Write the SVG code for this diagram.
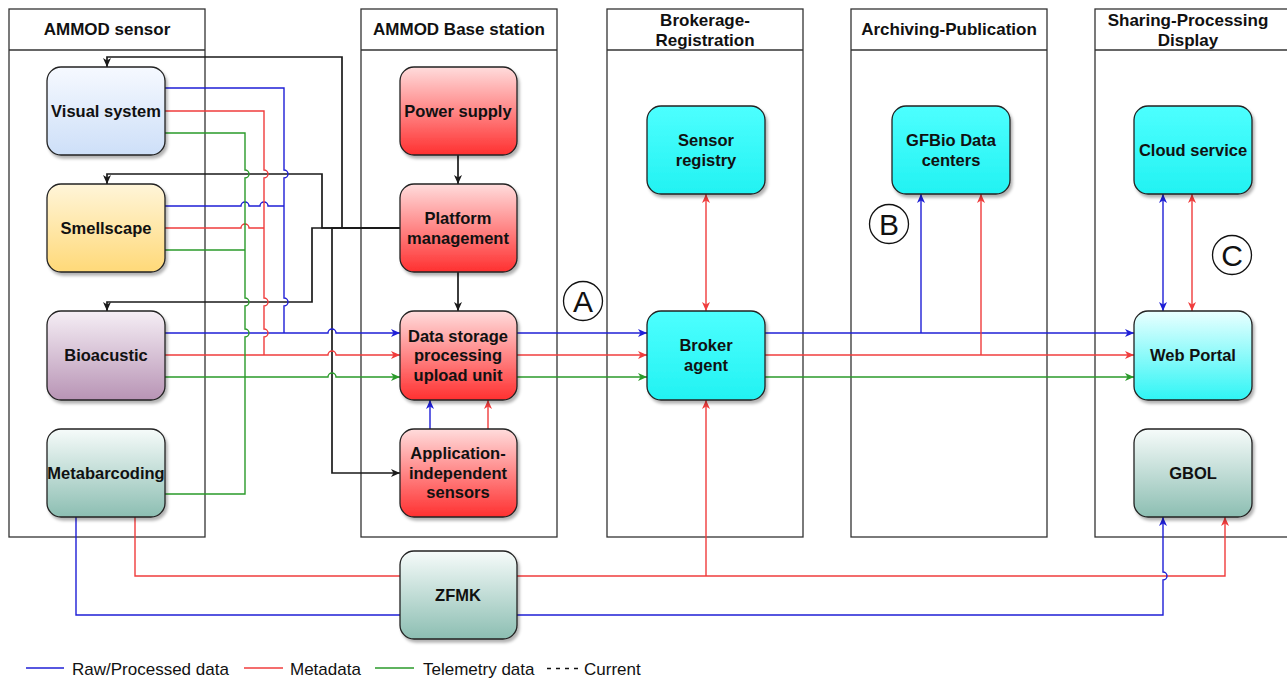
<svg xmlns="http://www.w3.org/2000/svg" width="1287" height="678" viewBox="0 0 1287 678">
<style>
.lane{fill:none;stroke:#333;stroke-width:1.3}
.hdr{font-family:"Liberation Sans",Arial,sans-serif;font-weight:bold;font-size:17px;fill:#111;text-anchor:middle}
.nt{font-family:"Liberation Sans",Arial,sans-serif;font-weight:bold;font-size:16.5px;fill:#111;text-anchor:middle}
.node{stroke:#222;stroke-width:1.3}
.c{fill:none;stroke-width:1.4}
.b{stroke:#1f1fd6}.r{stroke:#f03c3c}.g{stroke:#2a9a2a}.k{stroke:#1a1a1a;stroke-width:1.7}
.leg{font-family:"Liberation Sans",Arial,sans-serif;font-size:17px;fill:#111}
.circ{fill:#fff;stroke:#111;stroke-width:1.3}
.cl{font-family:"Liberation Sans",Arial,sans-serif;font-size:30px;fill:#111;text-anchor:middle}
</style>
<defs>
<filter id="sh" x="-10%" y="-10%" width="130%" height="130%"><feDropShadow dx="2" dy="3" stdDeviation="1.5" flood-color="#000" flood-opacity="0.3"/></filter>
<linearGradient id="gBlue" x1="0" y1="0" x2="0" y2="1"><stop offset="0" stop-color="#f6f9ff"/><stop offset="1" stop-color="#cddff8"/></linearGradient>
<linearGradient id="gYel" x1="0" y1="0" x2="0" y2="1"><stop offset="0" stop-color="#fff5d9"/><stop offset="1" stop-color="#ffd978"/></linearGradient>
<linearGradient id="gPur" x1="0" y1="0" x2="0" y2="1"><stop offset="0" stop-color="#f5eef5"/><stop offset="1" stop-color="#b894b5"/></linearGradient>
<linearGradient id="gTeal" x1="0" y1="0" x2="0" y2="1"><stop offset="0" stop-color="#f6fbfa"/><stop offset="1" stop-color="#8cbeb2"/></linearGradient>
<linearGradient id="gRed" x1="0" y1="0" x2="0" y2="1"><stop offset="0" stop-color="#ffdcdc"/><stop offset="1" stop-color="#ff3030"/></linearGradient>
<linearGradient id="gCyan" x1="0" y1="0" x2="0" y2="1"><stop offset="0" stop-color="#4dffff"/><stop offset="1" stop-color="#22f2f2"/></linearGradient>
<linearGradient id="gCyanL" x1="0" y1="0" x2="0" y2="1"><stop offset="0" stop-color="#eaffff"/><stop offset="1" stop-color="#2ef5f5"/></linearGradient>
<marker id="aB" markerUnits="userSpaceOnUse" markerWidth="10" markerHeight="10" refX="9" refY="4" orient="auto-start-reverse"><path d="M0,0 L9,4 L0,8 L2.5,4 Z" fill="#1f1fd6"/></marker>
<marker id="aR" markerUnits="userSpaceOnUse" markerWidth="10" markerHeight="10" refX="9" refY="4" orient="auto-start-reverse"><path d="M0,0 L9,4 L0,8 L2.5,4 Z" fill="#f03c3c"/></marker>
<marker id="aG" markerUnits="userSpaceOnUse" markerWidth="10" markerHeight="10" refX="9" refY="4" orient="auto-start-reverse"><path d="M0,0 L9,4 L0,8 L2.5,4 Z" fill="#2a9a2a"/></marker>
<marker id="aK" markerUnits="userSpaceOnUse" markerWidth="10" markerHeight="10" refX="9" refY="4" orient="auto-start-reverse"><path d="M0,0 L9,4 L0,8 L2.5,4 Z" fill="#1a1a1a"/></marker>
</defs>
<rect width="1287" height="678" fill="#fff"/>

<g id="lanes">
<g id="lane-sensor"><rect class="lane" x="9" y="9" width="196" height="528"/><line class="lane" x1="9" y1="50" x2="205" y2="50"/><text class="hdr" x="107" y="35">AMMOD sensor</text></g>
<g id="lane-base"><rect class="lane" x="361" y="9" width="196" height="528"/><line class="lane" x1="361" y1="50" x2="557" y2="50"/><text class="hdr" x="459" y="35">AMMOD Base station</text></g>
<g id="lane-broker"><rect class="lane" x="607" y="9" width="196" height="528"/><line class="lane" x1="607" y1="50" x2="803" y2="50"/><text class="hdr" x="705" y="26">Brokerage-</text><text class="hdr" x="705" y="46">Registration</text></g>
<g id="lane-archive"><rect class="lane" x="851" y="9" width="196" height="528"/><line class="lane" x1="851" y1="50" x2="1047" y2="50"/><text class="hdr" x="949" y="35">Archiving-Publication</text></g>
<g id="lane-share"><rect class="lane" x="1095" y="9" width="196" height="528"/><line class="lane" x1="1095" y1="50" x2="1291" y2="50"/><text class="hdr" x="1188" y="26">Sharing-Processing</text><text class="hdr" x="1188" y="46">Display</text></g>
</g>

<g id="connectors">
<path class="c k" d="M400,228 L342,228 L342,57 L107,57 L107,67" marker-end="url(#aK)"/>
<path class="c k" d="M400,228 L322,228 L322,174 L107,174 L107,184" marker-end="url(#aK)"/>
<path class="c k" d="M400,228 L312,228 L312,302 L107,302 L107,311" marker-end="url(#aK)"/>
<path class="c k" d="M400,228 L332,228 L332,473 L400,473" marker-end="url(#aK)"/>
<path class="c k" d="M458,155 L458,184" marker-end="url(#aK)"/>
<path class="c k" d="M458,272 L458,311" marker-end="url(#aK)"/>
<path class="c b" d="M165,88 L284,88 L284,170 A4,4 0 0 1 284,178 L284,298 A4,4 0 0 1 284,306 L284,333"/>
<path class="c b" d="M165,206 L241,206 A4,4 0 0 1 249,206 L260,206 A4,4 0 0 1 268,206 L284,206"/>
<path class="c b" d="M165,333 L328,333 A4,4 0 0 1 336,333 L400,333" marker-end="url(#aB)"/>
<path class="c r" d="M165,111 L264,111 L264,170 A4,4 0 0 1 264,178 L264,298 A4,4 0 0 1 264,306 L264,329 A4,4 0 0 1 264,337 L264,355"/>
<path class="c r" d="M165,228 L241,228 A4,4 0 0 1 249,228 L264,228"/>
<path class="c r" d="M165,355 L328,355 A4,4 0 0 1 336,355 L400,355" marker-end="url(#aR)"/>
<path class="c g" d="M165,133 L245,133 L245,170 A4,4 0 0 1 245,178 L245,298 A4,4 0 0 1 245,306 L245,329 A4,4 0 0 1 245,337 L245,494 L165,494"/>
<path class="c g" d="M165,250 L245,250"/>
<path class="c g" d="M165,377 L328,377 A4,4 0 0 1 336,377 L400,377" marker-end="url(#aG)"/>
<path class="c b" d="M430,429 L430,400" marker-end="url(#aB)"/>
<path class="c r" d="M488,429 L488,400" marker-end="url(#aR)"/>
<path class="c b" d="M517,333 L647,333" marker-end="url(#aB)"/>
<path class="c r" d="M517,355 L647,355" marker-end="url(#aR)"/>
<path class="c g" d="M517,377 L647,377" marker-end="url(#aG)"/>
<path class="c b" d="M765,333 L1134,333" marker-end="url(#aB)"/>
<path class="c r" d="M765,355 L1134,355" marker-end="url(#aR)"/>
<path class="c g" d="M765,377 L1134,377" marker-end="url(#aG)"/>
<path class="c b" d="M921,333 L921,194" marker-end="url(#aB)"/>
<path class="c r" d="M981,355 L981,194" marker-end="url(#aR)"/>
<path class="c r" d="M706,194 L706,311" marker-start="url(#aR)" marker-end="url(#aR)"/>
<path class="c b" d="M1163,194 L1163,311" marker-start="url(#aB)" marker-end="url(#aB)"/>
<path class="c r" d="M1192,194 L1192,311" marker-start="url(#aR)" marker-end="url(#aR)"/>
<path class="c r" d="M135,517 L135,576 L1225,576 L1225,517" marker-end="url(#aR)"/>
<path class="c r" d="M706,576 L706,400" marker-end="url(#aR)"/>
<path class="c b" d="M76,517 L76,615 L1163,615 L1163,580 A4,4 0 0 0 1163,572 L1163,517" marker-end="url(#aB)"/>
</g>

<g id="n-visual"><rect class="node" x="47" y="67" width="118" height="88" rx="14" fill="url(#gBlue)" filter="url(#sh)"/><text class="nt" x="106" y="117">Visual system</text></g>
<g id="n-smell"><rect class="node" x="47" y="184" width="118" height="88" rx="14" fill="url(#gYel)" filter="url(#sh)"/><text class="nt" x="106" y="234">Smellscape</text></g>
<g id="n-bio"><rect class="node" x="47" y="311" width="118" height="89" rx="14" fill="url(#gPur)" filter="url(#sh)"/><text class="nt" x="106" y="361">Bioacustic</text></g>
<g id="n-meta"><rect class="node" x="47" y="429" width="118" height="88" rx="14" fill="url(#gTeal)" filter="url(#sh)"/><text class="nt" x="106" y="479">Metabarcoding</text></g>

<g id="n-power"><rect class="node" x="400" y="67" width="117" height="88" rx="14" fill="url(#gRed)" filter="url(#sh)"/><text class="nt" x="458" y="117">Power supply</text></g>
<g id="n-platform"><rect class="node" x="400" y="184" width="117" height="88" rx="14" fill="url(#gRed)" filter="url(#sh)"/><text class="nt" x="458" y="224">Platform</text><text class="nt" x="458" y="244">management</text></g>
<g id="n-datastorage"><rect class="node" x="400" y="311" width="117" height="89" rx="14" fill="url(#gRed)" filter="url(#sh)"/><text class="nt" x="458" y="342">Data storage</text><text class="nt" x="458" y="361">processing</text><text class="nt" x="458" y="381">upload unit</text></g>
<g id="n-appind"><rect class="node" x="400" y="429" width="117" height="88" rx="14" fill="url(#gRed)" filter="url(#sh)"/><text class="nt" x="458" y="459">Application-</text><text class="nt" x="458" y="479">independent</text><text class="nt" x="458" y="498">sensors</text></g>

<g id="n-registry"><rect class="node" x="647" y="106" width="118" height="88" rx="14" fill="url(#gCyan)" filter="url(#sh)"/><text class="nt" x="706" y="146">Sensor</text><text class="nt" x="706" y="166">registry</text></g>
<g id="n-broker"><rect class="node" x="647" y="311" width="118" height="89" rx="14" fill="url(#gCyan)" filter="url(#sh)"/><text class="nt" x="706" y="351">Broker</text><text class="nt" x="706" y="371">agent</text></g>
<g id="n-gfbio"><rect class="node" x="892" y="106" width="118" height="88" rx="14" fill="url(#gCyan)" filter="url(#sh)"/><text class="nt" x="951" y="146">GFBio Data</text><text class="nt" x="951" y="166">centers</text></g>
<g id="n-cloud"><rect class="node" x="1134" y="106" width="118" height="88" rx="14" fill="url(#gCyan)" filter="url(#sh)"/><text class="nt" x="1193" y="156">Cloud service</text></g>
<g id="n-web"><rect class="node" x="1134" y="311" width="118" height="89" rx="14" fill="url(#gCyanL)" filter="url(#sh)"/><text class="nt" x="1193" y="361">Web Portal</text></g>
<g id="n-gbol"><rect class="node" x="1134" y="429" width="118" height="88" rx="14" fill="url(#gTeal)" filter="url(#sh)"/><text class="nt" x="1193" y="479">GBOL</text></g>
<g id="n-zfmk"><rect class="node" x="400" y="551" width="117" height="88" rx="14" fill="url(#gTeal)" filter="url(#sh)"/><text class="nt" x="458" y="601">ZFMK</text></g>

<g id="label-A"><circle class="circ" cx="583" cy="301" r="19.5"/><text class="cl" x="583" y="312">A</text></g>
<g id="label-B"><circle class="circ" cx="889" cy="224" r="19.5"/><text class="cl" x="889" y="235">B</text></g>
<g id="label-C"><circle class="circ" cx="1232" cy="255" r="19.5"/><text class="cl" x="1232" y="266">C</text></g>

<g id="legend">
<line x1="26" y1="668" x2="64" y2="668" stroke="#1f1fd6" stroke-width="1.6"/><text class="leg" x="72" y="675">Raw/Processed data</text>
<line x1="244" y1="668" x2="283" y2="668" stroke="#f03c3c" stroke-width="1.6"/><text class="leg" x="290" y="675">Metadata</text>
<line x1="375" y1="668" x2="414" y2="668" stroke="#2a9a2a" stroke-width="1.6"/><text class="leg" x="423" y="675">Telemetry data</text>
<line x1="547" y1="668.5" x2="580" y2="668.5" stroke="#111" stroke-width="1.6" stroke-dasharray="4,5"/><text class="leg" x="584" y="675">Current</text>
</g>
</svg>
